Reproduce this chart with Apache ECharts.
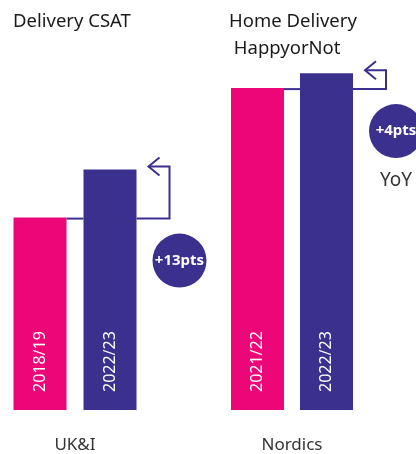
<!DOCTYPE html>
<html><head><meta charset="utf-8">
<script src="https://cdn.jsdelivr.net/npm/echarts@6/dist/echarts.min.js"></script>
<style>html,body{margin:0;padding:0;background:#fff}#c{width:416px;height:454px}</style>
</head><body><div id="c"></div>
<script>
const groups = ['UK&I', 'Nordics'];
const titles = ['Delivery CSAT', 'Home Delivery\n HappyorNot'];
const ukPeriods = ['2018/19', '2022/23'];
const ukValues = [52, 65];
const nordicPeriods = ['2021/22', '2022/23'];
const nordicValues = [87, 91];
const colors = ['#ec0677', '#3c308f'];
const FONT = 'Noto Sans';

const chart = echarts.init(document.getElementById('c'));
function mkSeries(idx, values) {
  return {
    type: 'bar', xAxisIndex: idx, yAxisIndex: idx, barWidth: 53,
    data: values.map((v, i) => ({ value: v, itemStyle: { color: colors[i] } })),
    label: {
      show: true, position: 'insideBottom', distance: 18, rotate: 90,
      align: 'left', verticalAlign: 'middle', color: '#fff',
      fontFamily: FONT, fontSize: 16,
      formatter: p => p.name
    },
    silent: true
  };
}
function mkX(idx, cats, name) {
  return {
    type: 'category', gridIndex: idx, data: cats,
    axisLine: { show: false }, axisTick: { show: false }, axisLabel: { show: false },
    name: name, nameLocation: 'middle', nameGap: 27,
    nameTextStyle: { fontFamily: FONT, fontSize: 17, color: '#333' }
  };
}
function mkY(idx) {
  return { type: 'value', gridIndex: idx, min: 0, max: 100, show: false };
}
const titleStyle = { fontFamily: FONT, fontSize: 18.5, fontWeight: 'normal', color: '#1a1a1a', lineHeight: 27 };
chart.setOption({
  animation: false,
  title: [
    { text: titles[0], left: 8, top: 3.5, textStyle: titleStyle },
    { text: titles[1], left: 224, top: 3.5, textStyle: titleStyle }
  ],
  grid: [
    { left: 5, width: 140, top: 40, bottom: 44, outerBoundsMode: 'none', containLabel: false },
    { left: 223, width: 138, top: 40, bottom: 44, outerBoundsMode: 'none', containLabel: false }
  ],
  xAxis: [mkX(0, ukPeriods, groups[0]), mkX(1, nordicPeriods, groups[1])],
  yAxis: [mkY(0), mkY(1)],
  series: [mkSeries(0, ukValues), mkSeries(1, nordicValues)]
});

// Annotations computed from the data through the axes
const gfx = [];
const lineStyle = { stroke: colors[1], lineWidth: 2, fill: null };
function annotate(idx, cats, values, showYoY) {
  const half = 26.5;
  const p0 = chart.convertToPixel({ gridIndex: idx }, [cats[0], values[0]]);
  const p1 = chart.convertToPixel({ gridIndex: idx }, [cats[1], values[1]]);
  const yLow = p0[1] + 1;
  const yHigh = p1[1] - 3;
  const r1 = p1[0] + half;
  gfx.push({ type: 'polyline', shape: { points: [[p0[0] + half, yLow], [p1[0] - half, yLow]] }, style: lineStyle, z: 10 });
  const vx = r1 + 33, tip = r1 + 12;
  gfx.push({ type: 'polyline', shape: { points: [[r1, yLow], [vx, yLow], [vx, yHigh], [tip, yHigh]] }, style: lineStyle, z: 10 });
  gfx.push({ type: 'polyline', shape: { points: [[tip + 11, yHigh - 9], [tip, yHigh], [tip + 11, yHigh + 9]] }, style: lineStyle, z: 10 });
  const cx = r1 + 43, cy = p0[1] + 43;
  gfx.push({ type: 'circle', shape: { cx: cx, cy: cy, r: 27 }, style: { fill: colors[1] }, z: 10 });
  gfx.push({ type: 'text', x: cx, y: cy, z: 11, style: { text: '+' + (values[1] - values[0]) + 'pts', fill: '#fff', font: 'bold 15px "' + FONT + '"', textAlign: 'center', textVerticalAlign: 'middle' } });
  if (showYoY) {
    gfx.push({ type: 'text', x: cx, y: cy + 49, z: 11, style: { text: 'YoY', fill: '#333', font: '19px "' + FONT + '"', textAlign: 'center', textVerticalAlign: 'middle' } });
  }
}
annotate(0, ukPeriods, ukValues, false);
annotate(1, nordicPeriods, nordicValues, true);
chart.setOption({ graphic: gfx });
</script>
</body></html>
